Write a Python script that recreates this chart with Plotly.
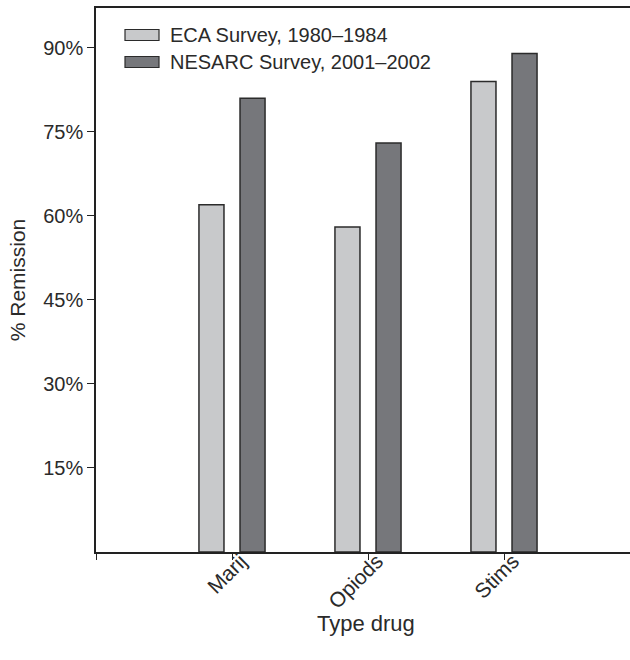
import plotly.graph_objects as go

# Remission rates by drug type for two national surveys
drug_types = ["Marij", "Opiods", "Stims"]
eca_1980_1984 = [62, 58, 84]
nesarc_2001_2002 = [81, 73, 89]
series_names = ["ECA Survey, 1980\u20131984", "NESARC Survey, 2001\u20132002"]
y_tick_values = [15, 30, 45, 60, 75, 90]
y_tick_labels = ["15%", "30%", "45%", "60%", "75%", "90%"]

FONT = "Liberation Sans, Arial, sans-serif"
TEXT = "#2a2a2a"
LIGHT = "#c8c9cb"
DARK = "#76777b"
EDGE = "#2b2b2b"

x_pos = [1, 2, 3]

fig = go.Figure()
fig.add_trace(go.Bar(
    x=x_pos, y=eca_1980_1984, name=series_names[0],
    width=0.184, offset=-0.243,
    marker=dict(color=LIGHT, line=dict(color=EDGE, width=1.5)),
    showlegend=False,
))
fig.add_trace(go.Bar(
    x=x_pos, y=nesarc_2001_2002, name=series_names[1],
    width=0.184, offset=0.059,
    marker=dict(color=DARK, line=dict(color=EDGE, width=1.5)),
    showlegend=False,
))

# Plot-area geometry in pixels, used to place the hand-drawn legend
PLOT_L, PLOT_W, PLOT_B, PLOT_H = 96, 534, 552, 544

shapes = []
annotations = []
legend_rows = [(35, LIGHT, series_names[0]), (62, DARK, series_names[1])]
for yc, col, label in legend_rows:
    shapes.append(dict(
        type="rect", xref="paper", yref="paper",
        x0=(125 - PLOT_L) / PLOT_W, x1=(159 - PLOT_L) / PLOT_W,
        y0=(PLOT_B - (yc + 5.5)) / PLOT_H, y1=(PLOT_B - (yc - 5.5)) / PLOT_H,
        fillcolor=col, line=dict(color=EDGE, width=1.2),
    ))
    annotations.append(dict(
        xref="paper", yref="paper", x=(168 - PLOT_L) / PLOT_W,
        y=(PLOT_B - yc) / PLOT_H,
        text=label, showarrow=False, xanchor="left", yanchor="middle",
        font=dict(family=FONT, size=20, color=TEXT),
    ))

# x-axis title placed below the rotated category labels
annotations.append(dict(
    xref="paper", yref="paper", x=(366 - PLOT_L) / PLOT_W,
    y=(PLOT_B - 623) / PLOT_H,
    text="Type drug", showarrow=False, xanchor="center", yanchor="middle",
    font=dict(family=FONT, size=22, color=TEXT),
))

fig.update_layout(
    width=630, height=660,
    margin=dict(l=96, r=0, t=8, b=108),
    paper_bgcolor="white", plot_bgcolor="white",
    barmode="overlay",
    font=dict(family=FONT, size=20, color=TEXT),
    shapes=shapes, annotations=annotations,
    xaxis=dict(
        range=[0, 534 / 136], tickvals=[0, 1, 2, 3],
        ticktext=[""] + drug_types, tickangle=-45,
        ticklabelshift=9, ticklabelstandoff=-19,
        showline=True, linecolor="#222", linewidth=1.5, mirror=True,
        ticks="outside", ticklen=6, tickcolor="#222", tickwidth=1.2,
        showgrid=False, zeroline=False,
        tickfont=dict(family=FONT, size=21, color=TEXT),
        automargin=False,
    ),
    yaxis=dict(
        range=[0, 97.1], tickvals=y_tick_values, ticktext=y_tick_labels,
        showline=True, linecolor="#222", linewidth=1.5, mirror=False,
        ticks="outside", ticklen=7, tickcolor="#222", tickwidth=1.2,
        showgrid=False, zeroline=False,
        tickfont=dict(family=FONT, size=20, color=TEXT),
        title=dict(text="% Remission", standoff=12,
                   font=dict(family=FONT, size=21, color=TEXT)),
        automargin=False,
    ),
)

fig.write_html("out.html")
